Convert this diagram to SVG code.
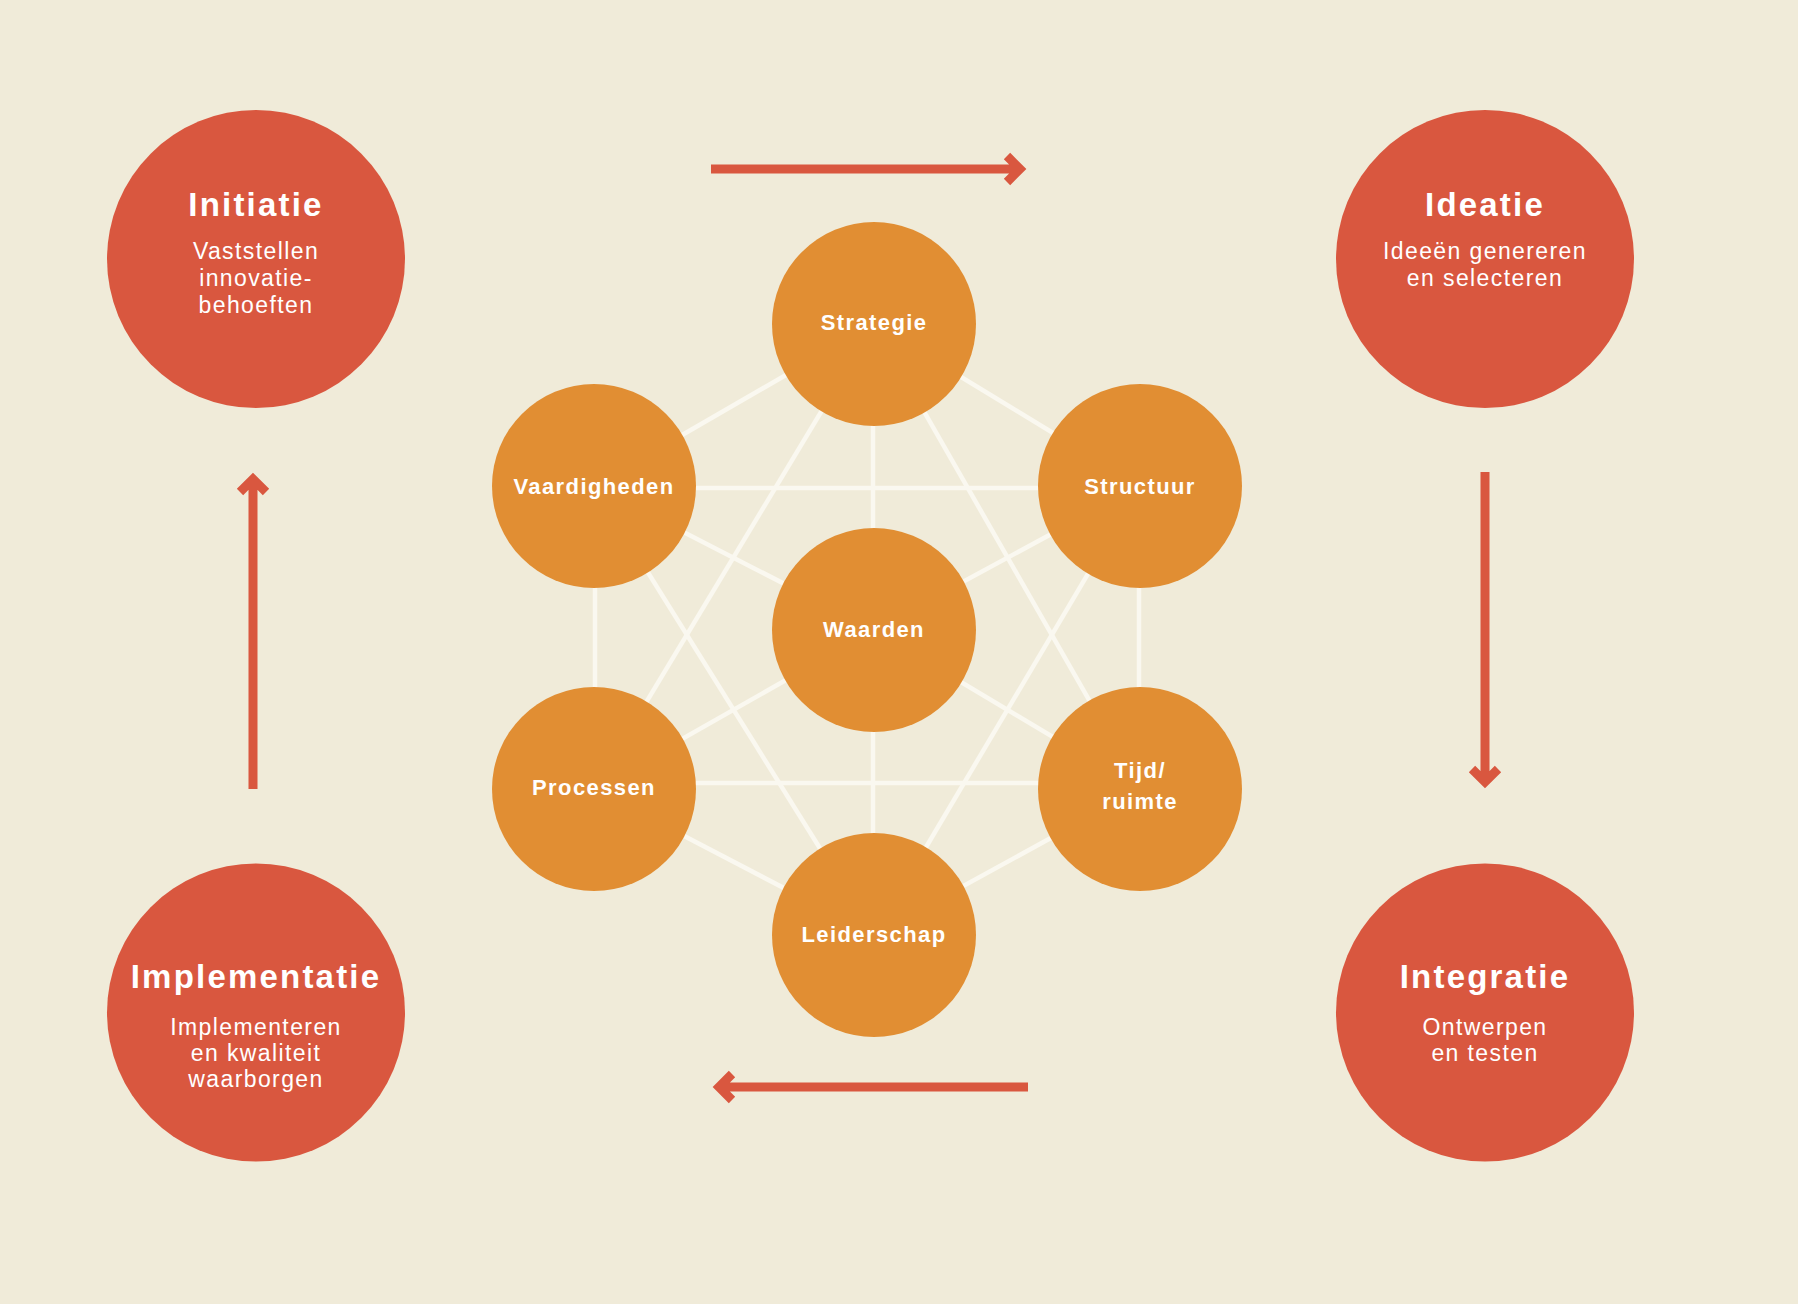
<svg xmlns="http://www.w3.org/2000/svg" width="1798" height="1304" viewBox="0 0 1798 1304">
<style>
.bg{fill:#F0EBD9}
.phase{fill:#D9573F}
.dim{fill:#E18E33}
.t{font-family:"Liberation Sans",Arial,sans-serif;fill:#FFFFFF;text-anchor:middle}
.title{font-size:33px;font-weight:bold;letter-spacing:2.2px}
.sub{font-size:23px;letter-spacing:1.4px}
.lab{font-size:22px;font-weight:bold;letter-spacing:1.4px}
.link{stroke:#FAF8F0;stroke-width:4.5;fill:none}
.arrow{stroke:#D9573F;stroke-width:9;fill:none;stroke-linejoin:miter;stroke-miterlimit:10}
</style>
<rect class="bg" x="0" y="0" width="1798" height="1304"/>
<g id="connectors">
  <g id="links">
    <line class="link" x1="874" y1="324" x2="594" y2="486"/>
    <line class="link" x1="874" y1="324" x2="1140" y2="486"/>
    <line class="link" x1="873" y1="324" x2="873" y2="935"/>
    <line class="link" x1="874" y1="324" x2="594" y2="789"/>
    <line class="link" x1="874" y1="324" x2="1140" y2="789"/>
    <line class="link" x1="594" y1="488" x2="1140" y2="488"/>
    <line class="link" x1="594" y1="486" x2="874" y2="630"/>
    <line class="link" x1="595" y1="486" x2="595" y2="789"/>
    <line class="link" x1="594" y1="486" x2="874" y2="935"/>
    <line class="link" x1="1140" y1="486" x2="874" y2="630"/>
    <line class="link" x1="1139" y1="486" x2="1139" y2="789"/>
    <line class="link" x1="1140" y1="486" x2="874" y2="935"/>
    <line class="link" x1="874" y1="630" x2="594" y2="789"/>
    <line class="link" x1="874" y1="630" x2="1140" y2="789"/>
    <line class="link" x1="594" y1="783" x2="1140" y2="783"/>
    <line class="link" x1="594" y1="789" x2="874" y2="935"/>
    <line class="link" x1="1140" y1="789" x2="874" y2="935"/>
  </g>
  <g id="cycle-arrows">
    <path class="arrow" d="M711,169 H1020 M1007,156 L1020,169 L1007,182"/>
    <path class="arrow" d="M1485,472 V782 M1472,769 L1485,782 L1498,769"/>
    <path class="arrow" d="M1028,1087 H719 M732,1074 L719,1087 L732,1100"/>
    <path class="arrow" d="M253,789 V479 M240,492 L253,479 L266,492"/>
  </g>
</g>
<g id="initiatie">
  <circle class="phase" cx="256" cy="259" r="149"/>
  <text class="t title" x="256" y="215.5">Initiatie</text>
  <text class="t sub" x="256" y="259">Vaststellen</text>
  <text class="t sub" x="256" y="286">innovatie-</text>
  <text class="t sub" x="256" y="313">behoeften</text>
</g>
<g id="ideatie">
  <circle class="phase" cx="1485" cy="259" r="149"/>
  <text class="t title" x="1485" y="215.5">Ideatie</text>
  <text class="t sub" x="1485" y="259">Ideeën genereren</text>
  <text class="t sub" x="1485" y="286">en selecteren</text>
</g>
<g id="integratie">
  <circle class="phase" cx="1485" cy="1012.5" r="149"/>
  <text class="t title" x="1485" y="987.5">Integratie</text>
  <text class="t sub" x="1485" y="1035">Ontwerpen</text>
  <text class="t sub" x="1485" y="1061">en testen</text>
</g>
<g id="implementatie">
  <circle class="phase" cx="256" cy="1012.5" r="149"/>
  <text class="t title" x="256" y="987.5">Implementatie</text>
  <text class="t sub" x="256" y="1035">Implementeren</text>
  <text class="t sub" x="256" y="1061">en kwaliteit</text>
  <text class="t sub" x="256" y="1087">waarborgen</text>
</g>
<g id="strategie">
  <circle class="dim" cx="874" cy="324" r="102"/>
  <text class="t lab" x="874" y="330">Strategie</text>
</g>
<g id="vaardigheden">
  <circle class="dim" cx="594" cy="486" r="102"/>
  <text class="t lab" x="594" y="494">Vaardigheden</text>
</g>
<g id="structuur">
  <circle class="dim" cx="1140" cy="486" r="102"/>
  <text class="t lab" x="1140" y="494">Structuur</text>
</g>
<g id="waarden">
  <circle class="dim" cx="874" cy="630" r="102"/>
  <text class="t lab" x="874" y="637">Waarden</text>
</g>
<g id="processen">
  <circle class="dim" cx="594" cy="789" r="102"/>
  <text class="t lab" x="594" y="795">Processen</text>
</g>
<g id="tijd-ruimte">
  <circle class="dim" cx="1140" cy="789" r="102"/>
  <text class="t lab" x="1140" y="778">Tijd/</text>
  <text class="t lab" x="1140" y="809">ruimte</text>
</g>
<g id="leiderschap">
  <circle class="dim" cx="874" cy="935" r="102"/>
  <text class="t lab" x="874" y="942">Leiderschap</text>
</g>
</svg>
